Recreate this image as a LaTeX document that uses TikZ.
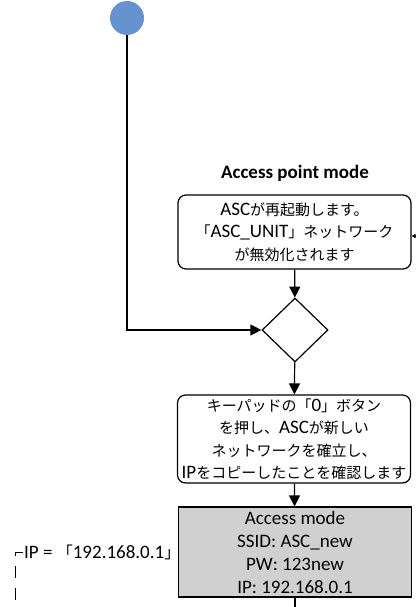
\documentclass[tikz,border=0pt]{standalone}
\usepackage{fontspec}
\setmainfont{Carlito}
\newfontfamily\jpfont{Noto Sans CJK JP}
\usetikzlibrary{shapes.geometric,arrows.meta}
\definecolor{startblue}{RGB}{103,146,208}
\definecolor{modegray}{RGB}{208,208,208}
\newcommand{\lat}[1]{{\rmfamily\fontsize{19}{22.5}\selectfont#1}}

\begin{document}
\begin{tikzpicture}[x=1pt,y=-1pt]
    \pgfmathsetmacro{\boxwidth}{233}
    \pgfmathsetmacro{\midx}{295}
    \tikzset{flow/.style={line width=1.2pt,-{Triangle[length=11pt,width=11pt]}},
        stepbox/.style={draw,line width=1.2pt,rounded corners=8pt,minimum width=\boxwidth pt,align=center,inner sep=1pt,font=\jpfont\fontsize{15}{22.5}\selectfont},
        modebox/.style={draw,line width=1.2pt,fill=modegray,minimum width=\boxwidth pt,align=center,inner sep=1pt,font=\fontsize{19}{23}\selectfont}}
    \useasboundingbox (0,0) rectangle (415,607);
    % start and decision
    \node[circle,fill=startblue,minimum size=34pt,inner sep=0pt] (start) at (127,18) {};
    \node[diamond,draw,line width=1.2pt,minimum width=66pt,minimum height=64pt,inner sep=0pt] (dec) at (\midx,330) {};
    % steps
    \node[font=\bfseries\fontsize{19}{22}\selectfont] (apmode) at (\midx,173) {Access point mode};
    \node[stepbox,minimum height=74pt] (restart) at (294.5,232) {\lat{ASC}が再起動します。\\「\lat{ASC\_UNIT}」ネットワーク\\が無効化されます};
    \node[stepbox,minimum height=88pt] (confirm) at (294,439) {キーパッドの「\lat{0}」ボタン\\を押し、\lat{ASC}が新しい\\ネットワークを確立し、\\\lat{IP}をコピーしたことを確認します};
    \node[modebox,minimum height=90pt] (accmode) at (\midx,552) {Access mode\\SSID: ASC\_new\\PW: 123new\\IP: 192.168.0.1};
    \node[anchor=west,font=\fontsize{19}{22}\selectfont,inner sep=1pt] (ipnote) at (23,552) {IP = {\jpfont\fontsize{16}{22}\selectfont「}192.168.0.1{\jpfont\fontsize{16}{22}\selectfont」}};
    \coordinate (rin) at (415,236);
    \coordinate (out) at (\midx,607);
    \coordinate (noteend) at (15,607);
    % connectors
    \draw[flow] (start) |- (dec);
    \draw[flow] (restart) -- (dec);
    \draw[flow] (dec) -- (confirm);
    \draw[flow] (confirm) -- (accmode);
    \draw[line width=1.2pt] (accmode) -- (out);
    \draw[line width=0.8pt,-{Triangle[length=4pt,width=4pt]}] (rin) -- (rin -| restart.east);
    \draw[line width=1pt,dash pattern=on 12pt off 10pt] (ipnote.west) -| (noteend);

\end{tikzpicture}
\end{document}
